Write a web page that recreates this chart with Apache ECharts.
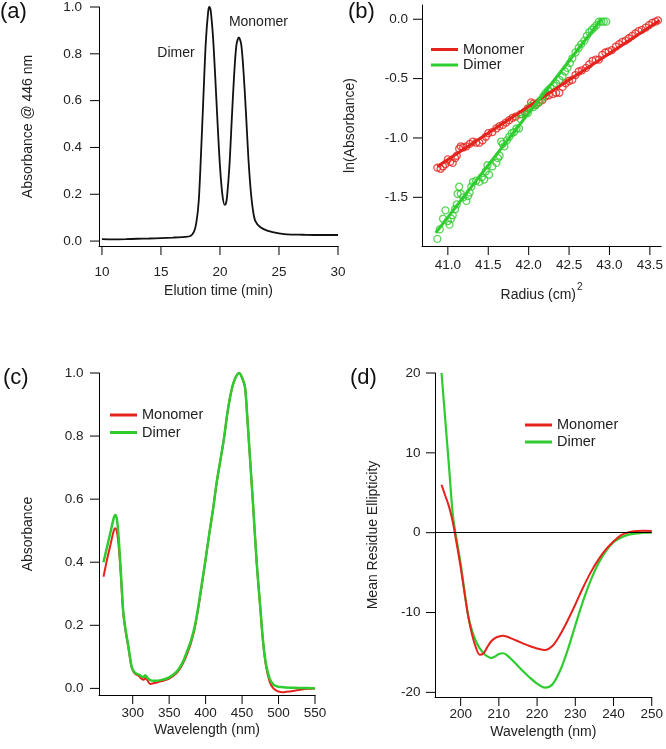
<!DOCTYPE html>
<html>
<head>
<meta charset="utf-8" />
<title>Monomer / Dimer</title>
<style>
  body { margin: 0; padding: 0; background: #fff; }
  #chart { width: 666px; height: 749px; }
</style>
<script src="https://cdn.jsdelivr.net/npm/echarts@6.0.0/dist/echarts.min.js"></script>
</head>
<body>
<div id="chart"></div>
<script>
// (a) elution profile
const elutionTime = [10, 11, 12, 13, 14, 15, 16, 17, 17.5, 17.8, 18.0, 18.2, 18.4, 18.6, 18.8, 19.0, 19.1, 19.2, 19.4, 19.6, 19.8, 20.0, 20.2, 20.4, 20.5, 20.6, 20.8, 21.0, 21.2, 21.4, 21.6, 21.8, 22.0, 22.2, 22.4, 22.6, 22.8, 23.0, 23.4, 24, 25, 26, 27, 28, 29, 30];
const elutionAbs = [0.008, 0.007, 0.008, 0.01, 0.011, 0.013, 0.015, 0.018, 0.022, 0.04, 0.08, 0.17, 0.38, 0.62, 0.85, 0.98, 1.0, 0.99, 0.88, 0.70, 0.50, 0.32, 0.2, 0.155, 0.16, 0.19, 0.32, 0.52, 0.71, 0.84, 0.87, 0.84, 0.72, 0.55, 0.36, 0.22, 0.13, 0.085, 0.06, 0.045, 0.033, 0.028, 0.027, 0.026, 0.026, 0.026];

// (b) ln(absorbance) vs radius^2, points and fits
const monomerPts = [[40.87,-1.25],[40.91,-1.26],[40.94,-1.24],[40.97,-1.22],[41.0,-1.18],[41.03,-1.2],[41.06,-1.21],[41.09,-1.17],[41.11,-1.15],[41.14,-1.09],[41.16,-1.07],[41.19,-1.08],[41.23,-1.07],[41.27,-1.05],[41.31,-1.03],[41.35,-1.04],[41.39,-1.04],[41.43,-1.02],[41.47,-0.99],[41.5,-0.96],[41.55,-0.95],[41.6,-0.92],[41.64,-0.9],[41.68,-0.89],[41.72,-0.87],[41.76,-0.85],[41.8,-0.83],[41.84,-0.82],[41.9,-0.8],[41.95,-0.78],[41.99,-0.75],[42.03,-0.7],[42.06,-0.71],[42.09,-0.72],[42.13,-0.7],[42.17,-0.68],[42.21,-0.65],[42.25,-0.64],[42.3,-0.63],[42.34,-0.62],[42.38,-0.62],[42.42,-0.57],[42.46,-0.54],[42.5,-0.52],[42.54,-0.51],[42.58,-0.47],[42.62,-0.44],[42.66,-0.43],[42.71,-0.41],[42.75,-0.38],[42.79,-0.35],[42.83,-0.34],[42.87,-0.34],[42.91,-0.3],[42.95,-0.28],[42.99,-0.27],[43.03,-0.26],[43.08,-0.23],[43.12,-0.21],[43.16,-0.19],[43.2,-0.18],[43.24,-0.16],[43.28,-0.14],[43.32,-0.12],[43.36,-0.1],[43.4,-0.09],[43.45,-0.07],[43.49,-0.05],[43.53,-0.03],[43.57,-0.02],[43.6,-0.01]];
const dimerPts = [[40.87,-1.85],[40.9,-1.77],[40.94,-1.68],[40.97,-1.61],[41.0,-1.7],[41.02,-1.73],[41.04,-1.68],[41.06,-1.65],[41.09,-1.6],[41.11,-1.56],[41.12,-1.47],[41.14,-1.41],[41.16,-1.47],[41.19,-1.5],[41.23,-1.53],[41.25,-1.49],[41.27,-1.46],[41.29,-1.41],[41.31,-1.37],[41.35,-1.36],[41.39,-1.37],[41.42,-1.33],[41.45,-1.35],[41.47,-1.28],[41.49,-1.23],[41.51,-1.31],[41.55,-1.24],[41.6,-1.21],[41.62,-1.17],[41.64,-1.15],[41.66,-1.03],[41.68,-1.05],[41.7,-1.07],[41.73,-1.02],[41.76,-0.99],[41.79,-0.96],[41.82,-0.95],[41.85,-0.92],[41.88,-0.92],[41.9,-0.84],[41.92,-0.8],[41.96,-0.79],[41.99,-0.79],[42.01,-0.75],[42.03,-0.73],[42.06,-0.74],[42.09,-0.72],[42.12,-0.7],[42.15,-0.68],[42.18,-0.65],[42.21,-0.62],[42.24,-0.6],[42.27,-0.58],[42.31,-0.56],[42.34,-0.54],[42.38,-0.51],[42.42,-0.48],[42.45,-0.44],[42.48,-0.41],[42.51,-0.37],[42.54,-0.33],[42.58,-0.28],[42.62,-0.24],[42.65,-0.21],[42.69,-0.18],[42.72,-0.14],[42.75,-0.11],[42.78,-0.09],[42.81,-0.07],[42.84,-0.05],[42.87,-0.02],[42.9,-0.02],[42.93,-0.02],[42.96,-0.02]];
const monomerFit = [[40.87, -1.24], [43.62, -0.01]];
const dimerFit = [[40.85, -1.8], [42.9, 0.0]];

// (c) absorbance spectra
const uvWavelength = [260,265,270,274,276,278,280,283,285,287,290,294,298,300,303,308,312,315,317,320,324,330,340,350,360,365,370,375,380,385,390,395,400,405,410,415,420,425,430,435,440,446,450,454,457,460,465,470,475,479,483,488,493,497,500,505,510,520,530,540,550];
const uvMonomer = [0.354,0.41,0.46,0.50,0.508,0.50,0.47,0.385,0.31,0.24,0.185,0.13,0.072,0.058,0.047,0.04,0.031,0.027,0.033,0.026,0.014,0.017,0.023,0.031,0.048,0.063,0.084,0.112,0.145,0.19,0.255,0.33,0.41,0.49,0.565,0.65,0.72,0.79,0.875,0.94,0.98,1.0,0.985,0.955,0.865,0.76,0.585,0.40,0.255,0.14,0.068,0.02,0.0,-0.007,-0.01,-0.012,-0.011,-0.008,-0.004,-0.001,0.0];
const uvDimer = [0.40,0.45,0.50,0.54,0.55,0.54,0.50,0.40,0.32,0.245,0.19,0.135,0.075,0.06,0.05,0.044,0.038,0.036,0.042,0.034,0.026,0.024,0.027,0.035,0.052,0.068,0.09,0.12,0.152,0.195,0.26,0.335,0.41,0.49,0.565,0.65,0.72,0.79,0.875,0.94,0.98,1.0,0.985,0.955,0.865,0.76,0.585,0.40,0.255,0.145,0.075,0.03,0.012,0.007,0.005,0.004,0.003,0.002,0.001,0.001,0.0];

// (d) CD spectra
const cdWavelength = [195,196,197,198,199,200,201,202,203,204,205,206,207,208,209,210,211,212,214,216,218,220,222,224,226,228,230,232,234,236,238,240,242,244,246,248,250];
const cdMonomer = [6.0,4.6,3.2,1.2,-1.5,-4.3,-7.5,-10.5,-12.8,-14.4,-15.3,-15.1,-14.3,-13.6,-13.2,-13.0,-12.9,-13.0,-13.4,-13.8,-14.2,-14.5,-14.7,-14.2,-12.8,-11.0,-9.0,-6.9,-5.0,-3.4,-2.1,-1.1,-0.3,0.05,0.2,0.25,0.2];
const cdDimer = [20,14,8,2,-1.0,-3.9,-7.3,-10.5,-12.3,-13.6,-14.5,-15.1,-15.5,-15.7,-15.5,-15.2,-15.1,-15.3,-16.2,-17.2,-18.1,-18.9,-19.4,-19.0,-17.3,-14.7,-11.6,-8.6,-6.0,-3.9,-2.3,-1.2,-0.6,-0.25,-0.1,0.0,0.0];

// tick labels
const ticksA_x = [10, 15, 20, 25, 30];
const ticksA_y = [0, 0.2, 0.4, 0.6, 0.8, 1.0];
const ticksB_x = [41.0, 41.5, 42.0, 42.5, 43.0, 43.5];
const ticksB_y = [-1.5, -1.0, -0.5, 0.0];
const ticksC_x = [300, 350, 400, 450, 500, 550];
const ticksC_y = [0, 0.2, 0.4, 0.6, 0.8, 1.0];
const ticksD_x = [200, 210, 220, 230, 240, 250];
const ticksD_y = [-20, -10, 0, 10, 20];

// axis ranges (Igor style: axes start a little before the first tick)
const rangeA = { x: [9.75, 30], y: [-0.021, 1.0] };
const rangeB = { x: [40.68, 43.64], y: [-1.91, 0.12] };
const rangeC = { x: [253.8, 550], y: [-0.021, 1.0] };
const rangeD = { x: [193.29, 250], y: [-20.58, 20] };

const RED = '#e5231d';
const GREEN = '#2fcc2f';
const FONT = '"Liberation Sans", Arial, sans-serif';
const TXT = '#222';
const TICK_LEN = 9;

function zip(xs, ys) {
  return xs.map((x, i) => [x, ys[i]]);
}
const fix1 = (v) => v.toFixed(1);
const int0 = (v) => String(Math.round(v));

function axis(gridIndex, range, ticks, fmt, margin, name, nameGap) {
  return {
    type: 'value',
    gridIndex: gridIndex,
    min: range[0],
    max: range[1],
    name: name,
    nameLocation: 'middle',
    nameGap: nameGap,
    nameTextStyle: { fontSize: 14, color: TXT, fontFamily: FONT },
    axisLine: { show: true, onZero: false, lineStyle: { color: '#000', width: 1 } },
    axisTick: { show: false },
    axisLabel: { show: true, customValues: ticks, formatter: fmt, margin: margin, fontSize: 13.5, color: TXT, fontFamily: FONT },
    splitLine: { show: false }
  };
}

// outward tick marks placed through the axis scales
function tickSeries(gi, range, xTicks, yTicks) {
  const data = xTicks.map((v) => [v, range.y[0], 0]).concat(yTicks.map((v) => [range.x[0], v, 1]));
  return {
    type: 'custom', xAxisIndex: gi, yAxisIndex: gi, silent: true, clip: false,
    data: data,
    renderItem: function (params, api) {
      const p = api.coord([api.value(0), api.value(1)]);
      const onX = api.value(2) === 0;
      return {
        type: 'line',
        shape: onX
          ? { x1: p[0], y1: p[1], x2: p[0], y2: p[1] + TICK_LEN }
          : { x1: p[0] - TICK_LEN, y1: p[1], x2: p[0], y2: p[1] },
        style: { stroke: '#000', lineWidth: 1 }
      };
    }
  };
}

function legend(left, top, gap) {
  return {
    left: left, top: top, orient: 'vertical', padding: 0,
    data: ['Monomer', 'Dimer'],
    icon: 'rect', itemWidth: 27, itemHeight: 3, itemGap: gap,
    selectedMode: false,
    textStyle: { fontSize: 14.5, color: TXT, fontFamily: FONT }
  };
}

function panelLabel(text, x, y) {
  return { type: 'text', x: x, y: y, style: { text: text, font: '22px ' + FONT, fill: '#111' } };
}

const radiusAxis = axis(1, rangeB.x, ticksB_x, fix1, 12, '{n|Radius (cm)}{s|2}', 36);
radiusAxis.nameTextStyle = {
  fontSize: 14, color: TXT, fontFamily: FONT,
  rich: {
    n: { fontSize: 14, color: TXT, fontFamily: FONT, lineHeight: 20, verticalAlign: 'bottom' },
    s: { fontSize: 10, color: TXT, fontFamily: FONT, lineHeight: 20, verticalAlign: 'top', padding: [0, 0, 0, 1] }
  }
};

const chart = echarts.init(document.getElementById('chart'));
chart.setOption({
  animation: false,
  grid: [
    { left: 99, top: 6, width: 239, height: 240, containLabel: false },
    { left: 422, top: 5, width: 241, height: 241, containLabel: false },
    { left: 99, top: 373, width: 216, height: 322, containLabel: false },
    { left: 435, top: 373, width: 217, height: 324, containLabel: false }
  ],
  xAxis: [
    axis(0, rangeA.x, ticksA_x, int0, 19, 'Elution time (min)', 38),
    radiusAxis,
    axis(2, rangeC.x, ticksC_x, int0, 11.5, 'Wavelength (nm)', 28),
    axis(3, rangeD.x, ticksD_x, int0, 10, 'Wavelength (nm)', 28)
  ],
  yAxis: [
    axis(0, rangeA.y, ticksA_y, fix1, 17, 'Absorbance @ 446 nm', 64),
    axis(1, rangeB.y, ticksB_y, fix1, 14, 'ln(Absorbance)', 65),
    axis(2, rangeC.y, ticksC_y, fix1, 15.5, 'Absorbance', 64),
    axis(3, rangeD.y, ticksD_y, int0, 14.5, 'Mean Residue Ellipticity', 55)
  ],
  legend: [legend(431, 42, 0.5), legend(110, 407.5, 2.5), legend(525, 417.5, 2)],
  graphic: [
    panelLabel('(a)', 0, 1),
    panelLabel('(b)', 348, 1),
    panelLabel('(c)', 3, 367),
    panelLabel('(d)', 350, 367)
  ],
  series: [
    // (a)
    { name: 'Elution', type: 'line', xAxisIndex: 0, yAxisIndex: 0, data: zip(elutionTime, elutionAbs),
      showSymbol: false, smooth: 0.3, color: '#111', lineStyle: { width: 1.8, color: '#111' },
      markPoint: {
        symbol: 'circle', symbolSize: 0,
        label: { show: true, position: 'inside', formatter: '{b}', fontSize: 14, color: TXT, fontFamily: FONT },
        data: [
          { name: 'Dimer', coord: [16.27, 0.804] },
          { name: 'Monomer', coord: [23.26, 0.937] }
        ]
      } },

    // (b) points under the fitted lines
    { name: 'Monomer points', type: 'scatter', xAxisIndex: 1, yAxisIndex: 1, data: monomerPts,
      symbol: 'circle', symbolSize: 7,
      itemStyle: { color: 'rgba(0,0,0,0)', borderColor: RED, borderWidth: 1.3 } },
    { name: 'Dimer points', type: 'scatter', xAxisIndex: 1, yAxisIndex: 1, data: dimerPts,
      symbol: 'circle', symbolSize: 7,
      itemStyle: { color: 'rgba(0,0,0,0)', borderColor: GREEN, borderWidth: 1.3 } },
    { name: 'Monomer', type: 'line', xAxisIndex: 1, yAxisIndex: 1, data: monomerFit, color: RED,
      showSymbol: false, lineStyle: { width: 3, color: RED } },
    { name: 'Dimer', type: 'line', xAxisIndex: 1, yAxisIndex: 1, data: dimerFit, color: GREEN,
      showSymbol: false, lineStyle: { width: 3, color: GREEN } },

    // (c)
    { name: 'Monomer', type: 'line', xAxisIndex: 2, yAxisIndex: 2, data: zip(uvWavelength, uvMonomer),
      showSymbol: false, smooth: 0.3, color: RED, lineStyle: { width: 2, color: RED } },
    { name: 'Dimer', type: 'line', xAxisIndex: 2, yAxisIndex: 2, data: zip(uvWavelength, uvDimer),
      showSymbol: false, smooth: 0.3, color: GREEN, lineStyle: { width: 2.5, color: GREEN } },

    // (d)
    { name: 'Dimer', type: 'line', xAxisIndex: 3, yAxisIndex: 3, data: zip(cdWavelength, cdDimer),
      showSymbol: false, smooth: 0.3, color: GREEN, lineStyle: { width: 2.2, color: GREEN },
      markLine: {
        silent: true, symbol: 'none', label: { show: false },
        lineStyle: { color: '#000', width: 1, type: 'solid' },
        data: [{ yAxis: 0 }]
      } },
    { name: 'Monomer', type: 'line', xAxisIndex: 3, yAxisIndex: 3, data: zip(cdWavelength, cdMonomer),
      showSymbol: false, smooth: 0.3, color: RED, lineStyle: { width: 2, color: RED } },

    // tick marks
    tickSeries(0, rangeA, ticksA_x, ticksA_y),
    tickSeries(1, rangeB, ticksB_x, ticksB_y),
    tickSeries(2, rangeC, ticksC_x, ticksC_y),
    tickSeries(3, rangeD, ticksD_x, ticksD_y)
  ]
});
</script>
</body>
</html>
